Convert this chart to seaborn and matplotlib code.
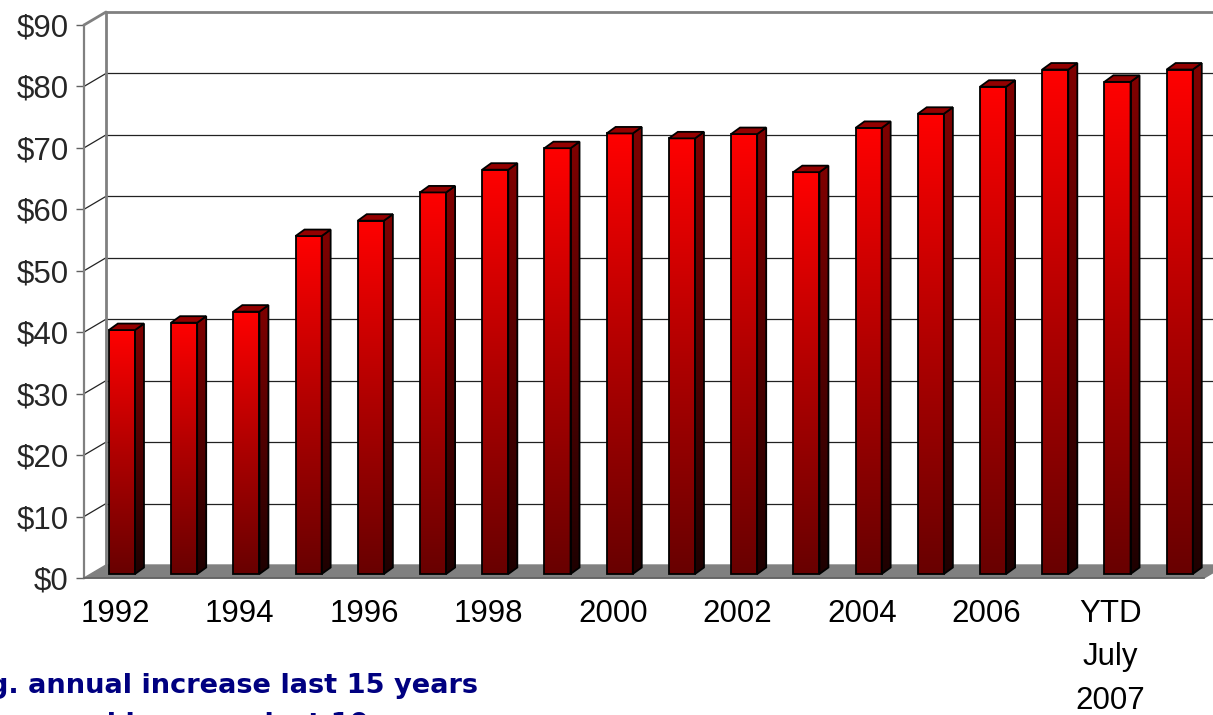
import numpy as np
import pandas as pd
import matplotlib
matplotlib.use("Agg")
import matplotlib.pyplot as plt
import seaborn as sns
from matplotlib.transforms import ScaledTranslation
from matplotlib.patches import Polygon
from matplotlib.colors import LinearSegmentedColormap

# ---- data -------------------------------------------------------------
periods = ["1992", "1993", "1994", "1995", "1996", "1997", "1998", "1999",
           "2000", "2001", "2002", "2003", "2004", "2005", "2006", "2007",
           "YTD\nJuly\n2007", "Aug\n2007"]
price = [39.7, 40.9, 42.7, 55.0, 57.5, 62.1, 65.8, 69.3, 71.7, 70.9,
         71.6, 65.4, 72.6, 74.9, 79.3, 82.1, 80.1, 82.1]
y_ticks = list(range(0, 100, 10))
y_tick_labels = [f"${v}" for v in y_ticks]
note_lines = ["Avg. annual increase last 15 years",
              "Avg. annual increase last 10 years"]

# ---- style ------------------------------------------------------------
sns.set_style("white")
plt.rcParams["font.family"] = ["Liberation Sans", "DejaVu Sans"]

W, H, DPI = 1213, 715, 100
fig = plt.figure(figsize=(W / DPI, H / DPI), dpi=DPI)
ax = fig.add_axes([84 / W, (H - 578) / H, 1120 / W, 553 / H])

df = pd.DataFrame({"period": periods, "price": price})
sns.barplot(data=df, x="period", y="price", order=periods, color="red",
            saturation=1, width=0.42, ax=ax, zorder=3,
            edgecolor="black", linewidth=1.3)
ax.set_xlim(-0.5, len(periods) - 0.5)
ax.set_ylim(0, 90)

# pixel -> data unit conversion for the pseudo-3D depth
p0 = ax.transData.transform((0, 0))
p1 = ax.transData.transform((1, 1))
ppx, ppy = p1 - p0

wall_dx, wall_dy = 22 / ppx, 13 / ppy      # back wall offset
depth_dx, depth_dy = 9 / ppx, 6.5 / ppy    # bar depth
bar_tr = ax.transData + ScaledTranslation(6.8 / DPI, 4 / DPI, fig.dpi_scale_trans)

front_cmap = LinearSegmentedColormap.from_list("front", ["#680000", "#b00000", "#ff0000"])
side_cmap = LinearSegmentedColormap.from_list("side", ["#1e0000", "#500000", "#800000"])
grad = np.linspace(0, 1, 256).reshape(-1, 1)

x_lo, x_hi = -0.5, len(periods) - 0.5

# back wall, left wall and floor
floor = Polygon([(x_lo, 0), (x_hi, 0), (x_hi + wall_dx, wall_dy), (x_lo + wall_dx, wall_dy)],
                closed=True, facecolor="#808080", edgecolor="#808080", lw=1,
                zorder=1, clip_on=False)
ax.add_patch(floor)
for v in y_ticks[1:]:
    top = v == y_ticks[-1]
    col = "#808080" if top else "#222222"
    lw = 2.0 if top else 0.9
    ax.plot([x_lo + wall_dx, x_hi + wall_dx], [v + wall_dy] * 2, color=col, lw=lw,
            zorder=0.5, clip_on=False)
    ax.plot([x_lo, x_lo + wall_dx], [v, v + wall_dy], color=col, lw=lw,
            zorder=0.5, clip_on=False)
ax.plot([x_lo + wall_dx] * 2, [wall_dy, 90 + wall_dy], color="#808080", lw=2.0,
        zorder=0.6, clip_on=False)

# bars: gradient front face, shaded side, darker top
for patch in list(ax.patches):
    if patch is floor:
        continue
    x0, w, h = patch.get_x(), patch.get_width(), patch.get_height()
    x1 = x0 + w
    patch.set_transform(bar_tr)
    patch.set_facecolor("none")
    patch.set_zorder(3.3)
    im = ax.imshow(grad, cmap=front_cmap, extent=(x0, x1, 0, h), origin="lower",
                   aspect="auto", transform=bar_tr, zorder=3.1, interpolation="bilinear")
    im.set_clip_path(patch)

    side = Polygon([(x1, 0), (x1 + depth_dx, depth_dy), (x1 + depth_dx, h + depth_dy), (x1, h)],
                   closed=True, facecolor="none", edgecolor="black", lw=1.3,
                   transform=bar_tr, zorder=3.3)
    ax.add_patch(side)
    ims = ax.imshow(grad, cmap=side_cmap, extent=(x1, x1 + depth_dx, 0, h + depth_dy),
                    origin="lower", aspect="auto", transform=bar_tr, zorder=3.0,
                    interpolation="bilinear")
    ims.set_clip_path(side)

    top = Polygon([(x0, h), (x1, h), (x1 + depth_dx, h + depth_dy), (x0 + depth_dx, h + depth_dy)],
                  closed=True, facecolor="#940000", edgecolor="black", lw=1.3,
                  transform=bar_tr, zorder=3.3)
    ax.add_patch(top)

ax.set_xlim(x_lo, x_hi)
ax.set_ylim(0, 90)

# axes, ticks and labels
for s in ("top", "right"):
    ax.spines[s].set_visible(False)
ax.spines["left"].set_color("#808080")
ax.spines["left"].set_linewidth(1.6)
ax.spines["bottom"].set_color("#606060")
ax.spines["bottom"].set_linewidth(1.2)
ax.spines["left"].set_zorder(4)
ax.spines["bottom"].set_zorder(4)

ax.set_yticks(y_ticks)
ax.set_yticklabels(y_tick_labels)
ax.set_xticks(range(len(periods)))
ax.set_xticklabels([p if i % 2 == 0 else "" for i, p in enumerate(periods)])
ax.set_xticks(np.arange(x_lo, x_hi + 0.01, 1), minor=True)
ax.tick_params(axis="x", which="major", length=0, pad=15, labelsize=22.5, labelcolor="black")
ax.tick_params(axis="x", which="minor", length=7.5, width=1.0, color="#606060", direction="out")
ax.tick_params(axis="y", length=6, width=1.0, color="#606060", pad=5, labelsize=22.5,
               left=True, direction="out")
for lab in ax.get_xticklabels():
    lab.set_linespacing(1.58)
ax.set_xlabel("")
ax.set_ylabel("")
ax.grid(False)

# footnote lines
note_font = dict(fontsize=19.6, fontweight="bold", color="#000080",
                 family=["DejaVu Sans"])
fig.text(478 / W, 1 - 693 / H, note_lines[0], ha="right", va="baseline", **note_font)
fig.text(462 / W, 1 - 732 / H, note_lines[1], ha="right", va="baseline", **note_font)

fig.savefig("out.png", dpi=DPI, facecolor="white")
